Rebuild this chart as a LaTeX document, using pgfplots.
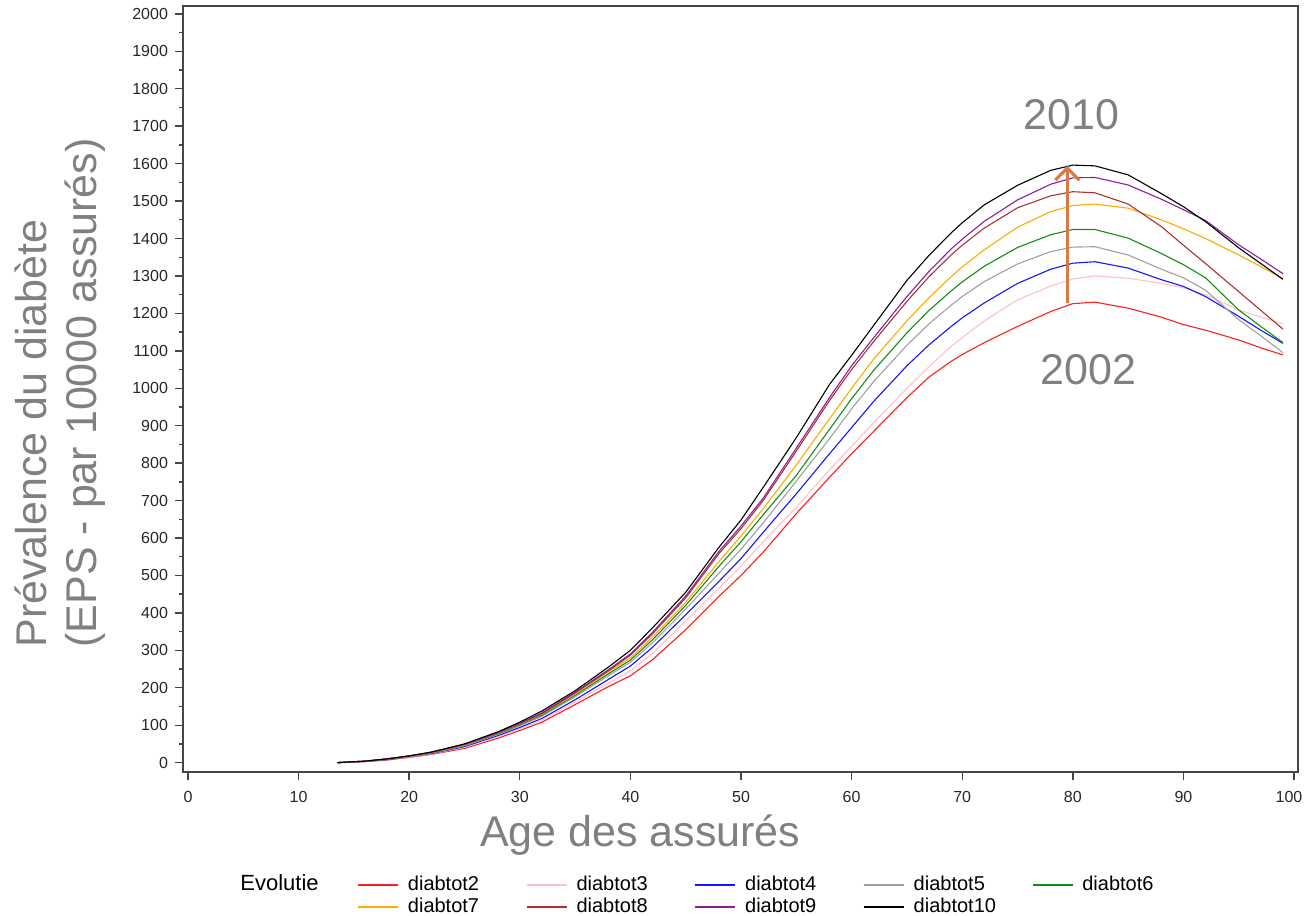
\documentclass[border=0pt]{standalone}
\usepackage{pgfplots}
\pgfplotsset{compat=1.18}
\usepackage{pgfplotstable}
\usepackage{fontspec}
\setmainfont{Liberation Sans}
\usetikzlibrary{arrows.meta}

\definecolor{cRed}{RGB}{255,30,30}
\definecolor{cPink}{RGB}{255,192,203}
\definecolor{cBlue}{RGB}{20,20,255}
\definecolor{cGray}{RGB}{160,160,160}
\definecolor{cGreen}{RGB}{20,140,20}
\definecolor{cOrange}{RGB}{255,170,0}
\definecolor{cBrown}{RGB}{170,50,50}
\definecolor{cPurple}{RGB}{140,30,150}
\definecolor{cArrow}{RGB}{215,122,70}
\definecolor{labgray}{RGB}{128,128,128}
\definecolor{axgray}{RGB}{70,70,70}

% prevalence par 10000 assures, par age
\pgfplotstableread{
age  d2   d3   d4   d5   d6   d7   d8   d9   d10
13.5 0    0    0    0    0    0    0    0    0
16   3    3    3    3    4    4    4    4    4
18   7    8    8    9    9    10   10   10   10
20   14   15   16   16   17   17   18   18   18
22   22   23   24   25   26   27   28   28   28
25   38   41   43   45   47   48   49   49   50
28   65   69   72   75   77   79   80   80   82
30   86   90   94   98   101  103  104  105  108
32   108  113  118  124  127  130  131  133  138
35   155  162  168  176  180  183  186  188  192
38   203  212  222  232  237  242  245  248  255
40   232  245  258  268  274  280  287  290  300
42   275  292  308  320  328  335  344  348  360
45   355  378  395  410  420  428  440  445  455
48   444  466  484  506  524  537  558  564  575
50   500  525  545  570  590  605  625  632  648
52   562  590  615  640  662  678  700  706  735
55   665  682  718  752  767  795  832  840  868
58   762  782  825  865  890  918  967  975  1010
60   825  845  895  945  972  1000 1050 1060 1088
62   885  908  965  1018 1048 1078 1125 1135 1168
65   975  1000 1060 1115 1148 1180 1232 1245 1288
67   1030 1058 1116 1172 1208 1242 1298 1312 1355
69   1072 1112 1165 1222 1260 1298 1356 1372 1415
70   1090 1135 1188 1245 1284 1324 1382 1398 1442
72   1122 1180 1228 1285 1326 1370 1428 1446 1490
75   1165 1236 1280 1332 1376 1430 1482 1503 1542
78   1205 1273 1318 1365 1410 1472 1514 1545 1582
80   1226 1292 1334 1377 1424 1488 1525 1562 1596
82   1230 1300 1338 1378 1424 1492 1522 1563 1594
85   1214 1294 1321 1356 1401 1481 1492 1543 1570
88   1190 1280 1290 1318 1360 1450 1432 1505 1520
90   1170 1268 1272 1295 1330 1426 1382 1477 1485
92   1155 1250 1245 1262 1295 1400 1333 1448 1445
95   1129 1209 1192 1183 1209 1356 1258 1383 1375
97   1108 1190 1155 1140 1165 1325 1208 1345 1333
99   1089 1172 1120 1095 1122 1293 1158 1306 1291
}\prevtable

\begin{document}
\begin{tikzpicture}
\begin{axis}[
    scale only axis,
    width=557.5pt,
    height=383pt,
    xmin=-0.45, xmax=100.36,
    ymin=-25, ymax=2021,
    xtick={0,10,...,100},
    ytick={0,100,...,2000},
    minor ytick={50,150,...,1950},
    tick pos=left,
    tick align=outside,
    major tick length=4pt,
    minor tick length=2.2pt,
    axis line style={axgray, line width=0.7pt},
    every tick/.style={axgray, line width=0.7pt},
    ticklabel style={font=\fontsize{8}{9}\selectfont, text=black!85},
    xticklabel style={yshift=-2pt},
    xticklabel={\pgfmathprintnumber{\tick}\pgfmathparse{\tick>99?1:0}\ifdim\pgfmathresult pt>0.5pt\kern5pt\fi},
    /pgf/number format/assume math mode=true,
    /pgf/number format/1000 sep={},
    xlabel={Age des assurés},
    xlabel style={at={(0.41,-0.082)}, anchor=center, inner sep=0pt,
        font=\fontsize{21.5}{25}\selectfont, text=labgray},
    ylabel={Prévalence du diabète\\(EPS - par 10000 assurés)},
    ylabel style={at={(-0.110,0.162)}, anchor=west, align=left, inner sep=0pt,
        font=\fontsize{21.5}{25}\selectfont, text=labgray},
    legend style={at={(0.156,-0.1345)}, anchor=north west,
        draw=none, fill=none, inner sep=0pt,
        font=\fontsize{10}{11}\selectfont,
        nodes={inner sep=0pt, text height=7.5pt, text depth=2.2pt},
        column sep=4.5pt,
        /tikz/every even column/.append style={column sep=9pt},
        row sep=1.3pt},
    legend columns=5,
    legend cell align=left,
    legend image code/.code={\draw[#1, line width=0.8pt] (0pt,0pt) -- (20pt,0pt);},
    every axis plot/.append style={line width=0.55pt, mark=none},
]
\addplot[color=cRed] table[x=age, y=d2] {\prevtable};
\addlegendentry{\makebox[50pt][l]{diabtot2}}
\addplot[color=cPink] table[x=age, y=d3] {\prevtable};
\addlegendentry{\makebox[50pt][l]{diabtot3}}
\addplot[color=cBlue] table[x=age, y=d4] {\prevtable};
\addlegendentry{\makebox[50pt][l]{diabtot4}}
\addplot[color=cGray] table[x=age, y=d5] {\prevtable};
\addlegendentry{\makebox[50pt][l]{diabtot5}}
\addplot[color=cGreen] table[x=age, y=d6] {\prevtable};
\addlegendentry{\makebox[50pt][l]{diabtot6}}
\addplot[color=cOrange] table[x=age, y=d7] {\prevtable};
\addlegendentry{\makebox[50pt][l]{diabtot7}}
\addplot[color=cBrown] table[x=age, y=d8] {\prevtable};
\addlegendentry{\makebox[50pt][l]{diabtot8}}
\addplot[color=cPurple] table[x=age, y=d9] {\prevtable};
\addlegendentry{\makebox[50pt][l]{diabtot9}}
\addplot[color=black] table[x=age, y=d10] {\prevtable};
\addlegendentry{\makebox[50pt][l]{diabtot10}}

\draw[cArrow, line width=1.6pt, -{Straight Barb[length=6pt,width=12pt,line width=1.6pt]}]
    (axis cs:79.5,1228) -- (axis cs:79.5,1594);
\node[text=labgray, font=\fontsize{21.5}{25}\selectfont] at (axis cs:79.9,1730) {2010};
\node[text=labgray, font=\fontsize{21.5}{25}\selectfont] at (axis cs:81.4,1049) {2002};
\end{axis}
\node[anchor=west, inner sep=0pt, font=\fontsize{11}{12}\selectfont] at (28.5pt,-55.5pt) {Evolutie};
\pgfresetboundingbox
\path (-91.5pt,-71.5pt) rectangle (561pt,386pt);
\end{tikzpicture}
\end{document}
